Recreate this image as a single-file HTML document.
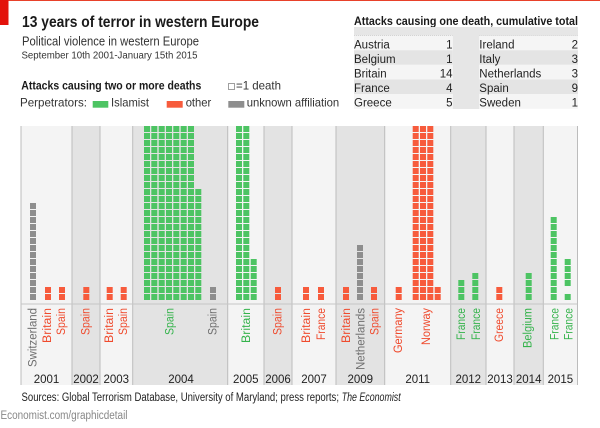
<!DOCTYPE html>
<html><head><meta charset="utf-8"><style>
html,body{margin:0;padding:0;background:#fff;}
svg{display:block;font-family:"Liberation Sans",sans-serif;}
</style></head><body>
<svg width="600" height="428" viewBox="0 0 600 428" xmlns="http://www.w3.org/2000/svg">
<rect x="0" y="0" width="600" height="428" fill="#fff"/>
<!-- top red -->
<rect x="0" y="0" width="600" height="1" fill="#e8412a"/>
<rect x="0" y="0" width="8.5" height="25" fill="#e3120b"/>

<!-- titles -->
<text x="22" y="27" font-size="16" font-weight="bold" fill="#1a1a1a" textLength="237" lengthAdjust="spacingAndGlyphs">13 years of terror in western Europe</text>
<text x="22" y="45.5" font-size="12.5" fill="#333" textLength="177" lengthAdjust="spacingAndGlyphs">Political violence in western Europe</text>
<text x="21.5" y="58.5" font-size="10" fill="#333" textLength="176" lengthAdjust="spacingAndGlyphs">September 10th 2001-January 15th 2015</text>

<text x="21.3" y="89.5" font-size="12" font-weight="bold" fill="#1a1a1a" textLength="180" lengthAdjust="spacingAndGlyphs">Attacks causing two or more deaths</text>
<rect x="228.5" y="83.5" width="6" height="6" fill="#fff" stroke="#888" stroke-width="0.8"/>
<text x="236" y="89.5" font-size="12" fill="#333" textLength="45" lengthAdjust="spacingAndGlyphs">=1 death</text>

<text x="20" y="106.5" font-size="12" fill="#333" textLength="67" lengthAdjust="spacingAndGlyphs">Perpetrators:</text>
<rect x="92.7" y="101" width="15.6" height="6.7" fill="#4dc463"/>
<text x="111" y="106.5" font-size="12" fill="#333" textLength="38" lengthAdjust="spacingAndGlyphs">Islamist</text>
<rect x="166.7" y="101" width="16" height="6.7" fill="#f75b3c"/>
<text x="185.7" y="106.5" font-size="12" fill="#333" textLength="25.6" lengthAdjust="spacingAndGlyphs">other</text>
<rect x="228.3" y="101" width="16" height="6.7" fill="#8e8e8e"/>
<text x="246.7" y="106.5" font-size="12" fill="#333" textLength="92.5" lengthAdjust="spacingAndGlyphs">unknown affiliation</text>

<!-- right table -->
<text x="354" y="25" font-size="12" font-weight="bold" fill="#1a1a1a" textLength="224" lengthAdjust="spacingAndGlyphs">Attacks causing one death, cumulative total</text>
<rect x="354" y="27" width="224" height="8.5" fill="#e6e6e6"/>
<rect x="452.7" y="35.5" width="26.6" height="73.5" fill="#e6e6e6"/>
<g>
<rect x="354" y="35.5" width="98.7" height="14.7" fill="#f5f5f5"/>
<rect x="354" y="50.2" width="98.7" height="14.6" fill="#e4e4e4"/>
<rect x="354" y="64.8" width="98.7" height="14.6" fill="#f5f5f5"/>
<rect x="354" y="79.4" width="98.7" height="14.6" fill="#e4e4e4"/>
<rect x="354" y="94" width="98.7" height="14.8" fill="#f5f5f5"/>
<rect x="479.3" y="35.5" width="98.7" height="14.7" fill="#f5f5f5"/>
<rect x="479.3" y="50.2" width="98.7" height="14.6" fill="#e4e4e4"/>
<rect x="479.3" y="64.8" width="98.7" height="14.6" fill="#f5f5f5"/>
<rect x="479.3" y="79.4" width="98.7" height="14.6" fill="#e4e4e4"/>
<rect x="479.3" y="94" width="98.7" height="14.8" fill="#f5f5f5"/>
<line x1="354" y1="35.5" x2="452.7" y2="35.5" stroke="#bbb" stroke-width="0.6" stroke-dasharray="1 1"/>
<line x1="479.3" y1="35.5" x2="578" y2="35.5" stroke="#bbb" stroke-width="0.6" stroke-dasharray="1 1"/>
</g>
<g font-size="11.5" fill="#222">
<text x="354" y="48.6">Austria</text>
<text x="354" y="63">Belgium</text>
<text x="354" y="77.5">Britain</text>
<text x="354" y="92">France</text>
<text x="354" y="106.5">Greece</text>
<text x="479.3" y="48.6">Ireland</text>
<text x="479.3" y="63">Italy</text>
<text x="479.3" y="77.5">Netherlands</text>
<text x="479.3" y="92">Spain</text>
<text x="479.3" y="106.5">Sweden</text>
</g>
<g font-size="11.5" fill="#222" text-anchor="end">
<text x="452.5" y="48.6">1</text>
<text x="452.5" y="63">1</text>
<text x="452.5" y="77.5">14</text>
<text x="452.5" y="92">4</text>
<text x="452.5" y="106.5">5</text>
<text x="578" y="48.6">2</text>
<text x="578" y="63">3</text>
<text x="578" y="77.5">3</text>
<text x="578" y="92">9</text>
<text x="578" y="106.5">1</text>
</g>

<!-- panel backgrounds -->
<g>
<rect x="21" y="126" width="51" height="259" fill="#f4f4f4"/>
<rect x="72" y="126" width="28" height="259" fill="#e3e3e3"/>
<rect x="100" y="126" width="32.7" height="259" fill="#f4f4f4"/>
<rect x="132.7" y="126" width="95" height="259" fill="#e3e3e3"/>
<rect x="227.7" y="126" width="36.3" height="259" fill="#f4f4f4"/>
<rect x="264" y="126" width="28" height="259" fill="#e3e3e3"/>
<rect x="292" y="126" width="44" height="259" fill="#f4f4f4"/>
<rect x="336" y="126" width="48.7" height="259" fill="#e3e3e3"/>
<rect x="384.7" y="126" width="66" height="259" fill="#f4f4f4"/>
<rect x="450.7" y="126" width="35.3" height="259" fill="#e3e3e3"/>
<rect x="486" y="126" width="28" height="259" fill="#f4f4f4"/>
<rect x="514" y="126" width="29.3" height="259" fill="#e3e3e3"/>
<rect x="543.3" y="126" width="34.2" height="259" fill="#f4f4f4"/>
</g>
<g stroke="#bcbcbc" stroke-width="1">
<line x1="21" y1="126" x2="21" y2="385"/>
<line x1="72" y1="126" x2="72" y2="385"/>
<line x1="100" y1="126" x2="100" y2="385"/>
<line x1="132.7" y1="126" x2="132.7" y2="385"/>
<line x1="227.7" y1="126" x2="227.7" y2="385"/>
<line x1="264" y1="126" x2="264" y2="385"/>
<line x1="292" y1="126" x2="292" y2="385"/>
<line x1="336" y1="126" x2="336" y2="385"/>
<line x1="384.7" y1="126" x2="384.7" y2="385"/>
<line x1="450.7" y1="126" x2="450.7" y2="385"/>
<line x1="486" y1="126" x2="486" y2="385"/>
<line x1="514" y1="126" x2="514" y2="385"/>
<line x1="543.3" y1="126" x2="543.3" y2="385"/>
<line x1="577.5" y1="126" x2="577.5" y2="385"/>
<line x1="21" y1="304" x2="577.5" y2="304" stroke="#c6c6c6"/>
</g>

<!-- squares -->
<g stroke="#8e8e8e" stroke-width="6" stroke-dasharray="6 1">
<line x1="33" y1="300" x2="33" y2="203"/>
<line x1="213" y1="300" x2="213" y2="287"/>
<line x1="360" y1="300" x2="360" y2="245"/>
</g>
<g stroke="#f75b3c" stroke-width="6" stroke-dasharray="6 1">
<line x1="48" y1="300" x2="48" y2="287"/>
<line x1="62" y1="300" x2="62" y2="287"/>
<line x1="86.3" y1="300" x2="86.3" y2="287"/>
<line x1="109.7" y1="300" x2="109.7" y2="287"/>
<line x1="123.7" y1="300" x2="123.7" y2="287"/>
<line x1="278" y1="300" x2="278" y2="287"/>
<line x1="306" y1="300" x2="306" y2="287"/>
<line x1="321" y1="300" x2="321" y2="287"/>
<line x1="346" y1="300" x2="346" y2="287"/>
<line x1="374" y1="300" x2="374" y2="287"/>
<line x1="398.7" y1="300" x2="398.7" y2="287"/>
<line x1="415.7" y1="300" x2="415.7" y2="126"/>
<line x1="423" y1="300" x2="423" y2="126"/>
<line x1="430.3" y1="300" x2="430.3" y2="126"/>
<line x1="437.7" y1="300" x2="437.7" y2="287"/>
<line x1="499.3" y1="300" x2="499.3" y2="287"/>
</g>
<g stroke="#4dc463" stroke-width="6" stroke-dasharray="6 1">
<line x1="147" y1="300" x2="147" y2="126"/>
<line x1="154.3" y1="300" x2="154.3" y2="126"/>
<line x1="161.7" y1="300" x2="161.7" y2="126"/>
<line x1="169" y1="300" x2="169" y2="126"/>
<line x1="176.3" y1="300" x2="176.3" y2="126"/>
<line x1="183.7" y1="300" x2="183.7" y2="126"/>
<line x1="191" y1="300" x2="191" y2="126"/>
<line x1="198.3" y1="300" x2="198.3" y2="189"/>
<line x1="239" y1="300" x2="239" y2="126"/>
<line x1="246.3" y1="300" x2="246.3" y2="126"/>
<line x1="253.7" y1="300" x2="253.7" y2="259"/>
<line x1="461.3" y1="300" x2="461.3" y2="280"/>
<line x1="475.3" y1="300" x2="475.3" y2="273"/>
<line x1="528.7" y1="300" x2="528.7" y2="273"/>
<line x1="553.7" y1="300" x2="553.7" y2="217"/>
<line x1="567.7" y1="300" x2="567.7" y2="294"/>
<line x1="567.7" y1="286" x2="567.7" y2="259"/>
</g>

<!-- country labels -->
<g font-size="11.5" text-anchor="end" lengthAdjust="spacingAndGlyphs">
<text transform="translate(36.3,308) rotate(-90)" fill="#6e6e6e" textLength="59" lengthAdjust="spacingAndGlyphs">Switzerland</text>
<text transform="translate(51,308) rotate(-90)" fill="#ef4a2d" textLength="35" lengthAdjust="spacingAndGlyphs">Britain</text>
<text transform="translate(65,308) rotate(-90)" fill="#ef4a2d" textLength="27" lengthAdjust="spacingAndGlyphs">Spain</text>
<text transform="translate(89.3,308) rotate(-90)" fill="#ef4a2d" textLength="27" lengthAdjust="spacingAndGlyphs">Spain</text>
<text transform="translate(113,308) rotate(-90)" fill="#ef4a2d" textLength="35" lengthAdjust="spacingAndGlyphs">Britain</text>
<text transform="translate(127,308) rotate(-90)" fill="#ef4a2d" textLength="27" lengthAdjust="spacingAndGlyphs">Spain</text>
<text transform="translate(173.3,308) rotate(-90)" fill="#34b34b" textLength="27" lengthAdjust="spacingAndGlyphs">Spain</text>
<text transform="translate(216.5,308) rotate(-90)" fill="#6e6e6e" textLength="27" lengthAdjust="spacingAndGlyphs">Spain</text>
<text transform="translate(250,308) rotate(-90)" fill="#34b34b" textLength="35" lengthAdjust="spacingAndGlyphs">Britain</text>
<text transform="translate(281.5,308) rotate(-90)" fill="#ef4a2d" textLength="27" lengthAdjust="spacingAndGlyphs">Spain</text>
<text transform="translate(310,308) rotate(-90)" fill="#ef4a2d" textLength="35" lengthAdjust="spacingAndGlyphs">Britain</text>
<text transform="translate(325,308) rotate(-90)" fill="#ef4a2d" textLength="32" lengthAdjust="spacingAndGlyphs">France</text>
<text transform="translate(350,308) rotate(-90)" fill="#ef4a2d" textLength="35" lengthAdjust="spacingAndGlyphs">Britain</text>
<text transform="translate(364.5,308) rotate(-90)" fill="#6e6e6e" textLength="62" lengthAdjust="spacingAndGlyphs">Netherlands</text>
<text transform="translate(378.5,308) rotate(-90)" fill="#ef4a2d" textLength="27" lengthAdjust="spacingAndGlyphs">Spain</text>
<text transform="translate(402,308) rotate(-90)" fill="#ef4a2d" textLength="45" lengthAdjust="spacingAndGlyphs">Germany</text>
<text transform="translate(430,308) rotate(-90)" fill="#ef4a2d" textLength="37" lengthAdjust="spacingAndGlyphs">Norway</text>
<text transform="translate(465,308) rotate(-90)" fill="#34b34b" textLength="32" lengthAdjust="spacingAndGlyphs">France</text>
<text transform="translate(480,308) rotate(-90)" fill="#34b34b" textLength="32" lengthAdjust="spacingAndGlyphs">France</text>
<text transform="translate(503,308) rotate(-90)" fill="#ef4a2d" textLength="34" lengthAdjust="spacingAndGlyphs">Greece</text>
<text transform="translate(531.5,308) rotate(-90)" fill="#34b34b" textLength="40" lengthAdjust="spacingAndGlyphs">Belgium</text>
<text transform="translate(558.3,308) rotate(-90)" fill="#34b34b" textLength="32" lengthAdjust="spacingAndGlyphs">France</text>
<text transform="translate(572.5,308) rotate(-90)" fill="#34b34b" textLength="32" lengthAdjust="spacingAndGlyphs">France</text>
</g>

<!-- years -->
<g font-size="11.5" fill="#222" text-anchor="middle">
<text x="46.5" y="383">2001</text>
<text x="86" y="383">2002</text>
<text x="116.3" y="383">2003</text>
<text x="181" y="383">2004</text>
<text x="245.8" y="383">2005</text>
<text x="278" y="383">2006</text>
<text x="314" y="383">2007</text>
<text x="360.3" y="383">2009</text>
<text x="417.7" y="383">2011</text>
<text x="468.3" y="383">2012</text>
<text x="500" y="383">2013</text>
<text x="528.7" y="383">2014</text>
<text x="560.4" y="383">2015</text>
</g>

<!-- footer -->
<text x="21.5" y="401" font-size="11.5" fill="#222" textLength="317.5" lengthAdjust="spacingAndGlyphs">Sources: Global Terrorism Database, University of Maryland; press reports;</text>
<text x="341.7" y="401" font-size="11.5" font-style="italic" fill="#222" textLength="59" lengthAdjust="spacingAndGlyphs">The Economist</text>
<text x="0.5" y="419" font-size="11.5" fill="#888" textLength="127" lengthAdjust="spacingAndGlyphs">Economist.com/graphicdetail</text>
</svg>
</body></html>
